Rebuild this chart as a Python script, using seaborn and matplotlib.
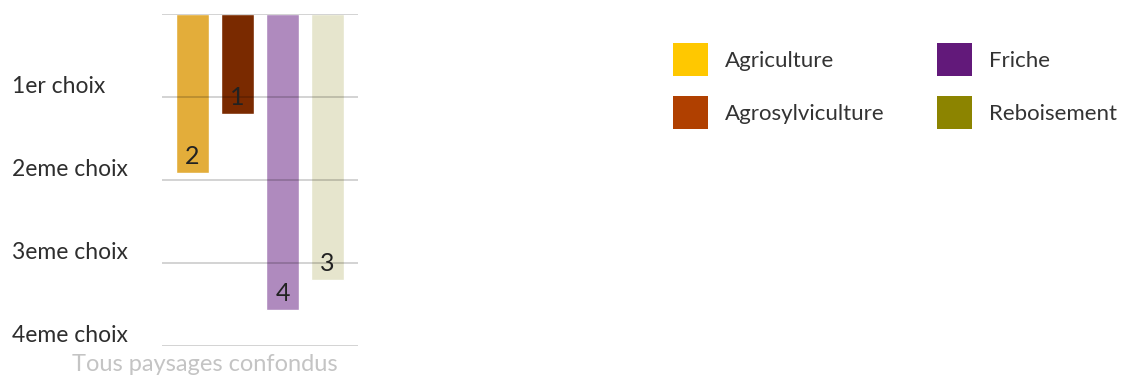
import pandas as pd
import seaborn as sns
import matplotlib.pyplot as plt
from matplotlib.patches import Patch

# data
usages = ['Agriculture', 'Agrosylviculture', 'Friche', 'Reboisement']
rang_moyen = [1.92, 1.21, 3.57, 3.21]
rang = ['2', '1', '4', '3']
groupe = 'Tous paysages confondus'
choix = ['1er choix', '2eme choix', '3eme choix', '4eme choix']
bar_colors = ['#E3AD3A', '#7A2A00', '#AF8ABE', '#E6E5CD']
legend_colors = ['#FFC800', '#B04000', '#62197A', '#8C8400']

df = pd.DataFrame({'groupe': groupe, 'usage': usages, 'rang': rang_moyen})

sns.set_style('white')
plt.rcParams['font.family'] = ['Lato', 'DejaVu Sans']

fig = plt.figure(figsize=(11.26, 3.79), dpi=100)
ax = fig.add_axes([0.1439, 0.087, 0.174, 0.876])

sns.barplot(data=df, x='groupe', y='rang', hue='usage', hue_order=usages,
            palette=bar_colors, gap=0.28, saturation=1, legend=False, ax=ax)

ax.set_xlim(-0.435, 0.435)
ax.set_ylim(4, 0)
ax.set_yticks([1, 2, 3, 4])
ax.set_yticklabels(choix, fontsize=16.5, color='#2e2e2e')
ax.tick_params(axis='y', length=0, pad=108)
for lab in ax.get_yticklabels():
    lab.set_horizontalalignment('left')
    lab.set_verticalalignment('bottom')
ax.set_ylabel('')
ax.set_xticks([])
ax.set_xlabel(groupe, fontsize=17, color='#c4c4c4')
ax.xaxis.set_label_coords(0.22, -0.025, transform=ax.transAxes)
ax.xaxis.label.set_va('top')
for s in ax.spines.values():
    s.set_visible(False)

# grid lines over the bars
for v in range(5):
    ax.axhline(v, color='black', alpha=0.2, lw=1.2, zorder=5)

# rank labels inside the bars
for bar, r in zip(ax.patches, rang):
    x = bar.get_x() + bar.get_width() / 2
    y = bar.get_y() + bar.get_height()
    ax.annotate(r, (x, y), xytext=(0, 4), textcoords='offset points',
                ha='center', va='bottom', fontsize=18, color='#222222', zorder=6)

handles = [Patch(facecolor=c, edgecolor='none') for c in legend_colors]
fig.legend(handles, usages, loc='upper left', bbox_to_anchor=(0.580, 0.939),
           ncol=2, frameon=False, fontsize=16, handlelength=1.55, handleheight=1.9,
           handletextpad=0.8, columnspacing=2.35, labelspacing=0.9,
           labelcolor='#333333')

fig.savefig('out.png', dpi=100)
